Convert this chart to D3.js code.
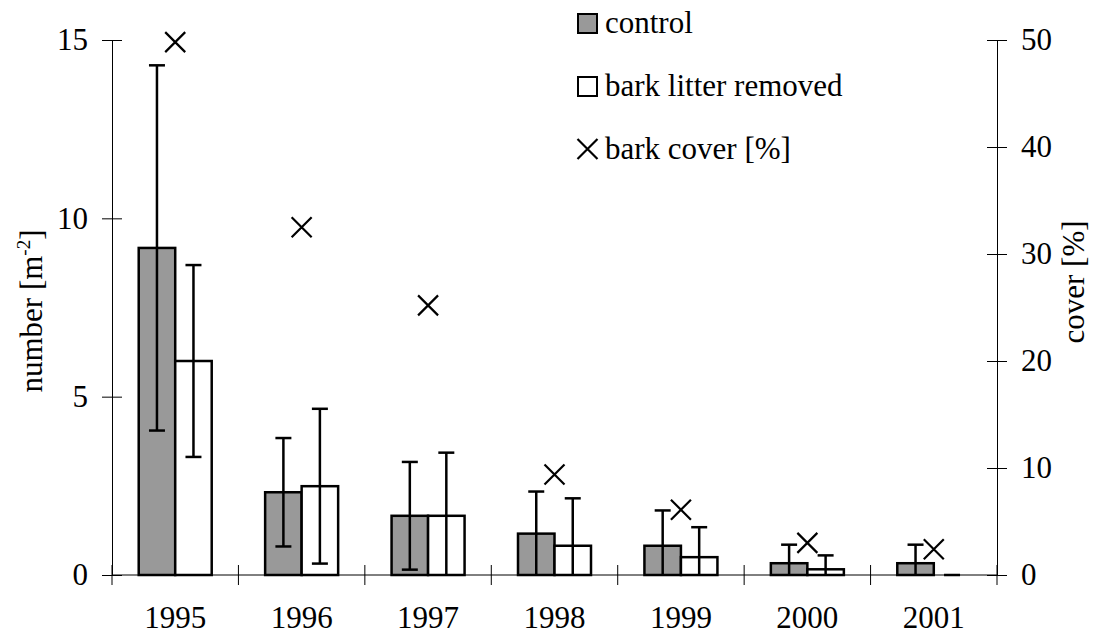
<!DOCTYPE html>
<html>
<head>
<meta charset="utf-8">
<script src="https://cdn.jsdelivr.net/npm/d3@7"></script>
<style>
  body { margin: 0; background: #fff; }
  text { font-family: "Liberation Serif", "Times New Roman", serif; fill: #000; }
</style>
</head>
<body>
<svg id="chart" width="1093" height="636"></svg>
<script>
const years = ['1995', '1996', '1997', '1998', '1999', '2000', '2001'];
const controlMean = [9.17, 2.32, 1.66, 1.16, 0.82, 0.33, 0.33];
const controlSd = [5.12, 1.52, 1.51, 1.18, 0.99, 0.52, 0.52];
const removedMean = [6.0, 2.49, 1.66, 0.82, 0.5, 0.16, 0];
const removedSd = [2.69, 2.17, 1.77, 1.33, 0.84, 0.39, 0];
const barkCover = [49.8, 32.5, 25.2, 9.4, 6.1, 3.0, 2.4];
const leftTicks = [0, 5, 10, 15];
const rightTicks = [0, 10, 20, 30, 40, 50];

const svg = d3.select('#chart');
const margin = { left: 112, right: 96, top: 40, bottom: 61 };
const W = +svg.attr('width'), H = +svg.attr('height');
const x0 = margin.left, x1 = W - margin.right;
const yBase = H - margin.bottom, yTop = margin.top;

const x = d3.scaleBand().domain(years).range([x0, x1]).padding(0);
const sub = d3.scaleBand().domain(['control', 'removed']).range([-36.5, 36.5]);
const y = d3.scaleLinear().domain([0, 15]).range([yBase, yTop]);
const yR = d3.scaleLinear().domain([0, 50]).range([yBase, yTop]);

const fontSize = 31;
const serif = '"Liberation Serif", "Times New Roman", serif';

// left axis
const gl = svg.append('g').attr('transform', 'translate(' + x0 + ',0)')
  .call(d3.axisLeft(y).tickValues(leftTicks).tickSizeInner(10).tickSizeOuter(0).tickPadding(14));
// right axis
const gr = svg.append('g').attr('transform', 'translate(' + x1 + ',0)')
  .call(d3.axisRight(yR).tickValues(rightTicks).tickSizeInner(10).tickSizeOuter(0).tickPadding(14));
[gl, gr].forEach(function(g) {
  g.attr('font-family', serif).attr('font-size', fontSize);
  g.select('.domain').attr('stroke', '#000').attr('stroke-width', 1);
  g.selectAll('.tick line').attr('x1', -10).attr('x2', 10).attr('stroke', '#000');
});

// bottom axis line and category separators
const bounds = years.map(function(d) { return x(d); }).concat([x1]);
svg.append('line').attr('x1', x0).attr('x2', x1).attr('y1', yBase).attr('y2', yBase)
  .attr('stroke', '#000').attr('stroke-width', 1);
svg.selectAll('.sep').data(bounds).enter().append('line')
  .attr('x1', function(d) { return d; }).attr('x2', function(d) { return d; })
  .attr('y1', yBase - 10).attr('y2', yBase + 10)
  .attr('stroke', '#000').attr('stroke-width', 1);
svg.selectAll('.xlab').data(years).enter().append('text')
  .attr('x', function(d) { return x(d) + x.bandwidth() / 2; })
  .attr('y', yBase + 53)
  .attr('text-anchor', 'middle')
  .attr('font-size', fontSize)
  .text(function(d) { return d; });

// bars
const series = [
  { key: 'control', mean: controlMean, sd: controlSd, fill: '#999999' },
  { key: 'removed', mean: removedMean, sd: removedSd, fill: '#ffffff' }
];
series.forEach(function(s) {
  const rows = years.map(function(d, i) { return { year: d, m: s.mean[i], sd: s.sd[i] }; });
  const cx = function(d) { return x(d.year) + x.bandwidth() / 2 + sub(s.key) + sub.bandwidth() / 2; };
  svg.append('g').selectAll('rect').data(rows.filter(function(d) { return d.m > 0; })).enter().append('rect')
    .attr('x', function(d) { return x(d.year) + x.bandwidth() / 2 + sub(s.key); })
    .attr('width', sub.bandwidth())
    .attr('y', function(d) { return y(d.m); })
    .attr('height', function(d) { return yBase - y(d.m); })
    .attr('fill', s.fill).attr('stroke', '#000').attr('stroke-width', 2.5);
  const eg = svg.append('g').attr('stroke', '#000').attr('stroke-width', 2.5);
  eg.selectAll('.stem').data(rows).enter().append('line')
    .attr('x1', cx).attr('x2', cx)
    .attr('y1', function(d) { return y(Math.max(0, d.m - d.sd)); })
    .attr('y2', function(d) { return y(d.m + d.sd); });
  eg.selectAll('.capTop').data(rows).enter().append('line')
    .attr('x1', function(d) { return cx(d) - 8; }).attr('x2', function(d) { return cx(d) + 8; })
    .attr('y1', function(d) { return y(d.m + d.sd); }).attr('y2', function(d) { return y(d.m + d.sd); });
  eg.selectAll('.capBot').data(rows.filter(function(d) { return d.m - d.sd > 0; })).enter().append('line')
    .attr('x1', function(d) { return cx(d) - 8; }).attr('x2', function(d) { return cx(d) + 8; })
    .attr('y1', function(d) { return y(d.m - d.sd); }).attr('y2', function(d) { return y(d.m - d.sd); });
});

// bark cover crosses
const cross = 'M-10,-10L10,10M-10,10L10,-10';
svg.append('g').selectAll('path').data(years).enter().append('path')
  .attr('transform', function(d, i) {
    return 'translate(' + (x(d) + x.bandwidth() / 2) + ',' + yR(barkCover[i]) + ')';
  })
  .attr('d', cross).attr('fill', 'none').attr('stroke', '#000').attr('stroke-width', 2.2);

// axis titles
const lt = svg.append('text')
  .attr('transform', 'translate(42,311) rotate(-90)')
  .attr('text-anchor', 'middle')
  .attr('font-size', fontSize);
lt.append('tspan').text('number [m');
lt.append('tspan').attr('font-size', 19).attr('dy', -12).text('-2');
lt.append('tspan').attr('dy', 12).text(']');

svg.append('text')
  .attr('transform', 'translate(1084,282) rotate(-90)')
  .attr('text-anchor', 'middle')
  .attr('font-size', fontSize)
  .text('cover [%]');

// legend
const legend = [
  { label: 'control', type: 'box', fill: '#999999' },
  { label: 'bark litter removed', type: 'box', fill: '#ffffff' },
  { label: 'bark cover [%]', type: 'cross' }
];
const lg = svg.append('g').attr('transform', 'translate(577,13)');
legend.forEach(function(d, i) {
  const row = lg.append('g').attr('transform', 'translate(0,' + (i * 63) + ')');
  if (d.type === 'box') {
    row.append('rect').attr('x', 1).attr('y', 1).attr('width', 19).attr('height', 19)
      .attr('fill', d.fill).attr('stroke', '#000').attr('stroke-width', 2);
  } else {
    row.append('path').attr('transform', 'translate(10.5,10)').attr('d', cross)
      .attr('fill', 'none').attr('stroke', '#000').attr('stroke-width', 2.2);
  }
  row.append('text').attr('x', 28).attr('y', 20).attr('font-size', fontSize).text(d.label);
});
</script>
</body>
</html>
